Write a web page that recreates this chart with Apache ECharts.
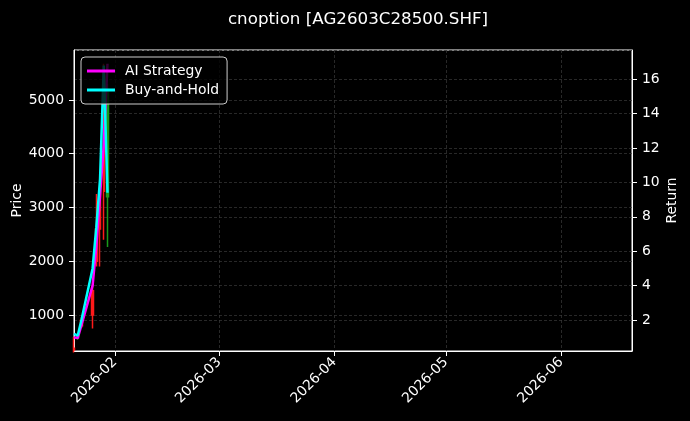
<!DOCTYPE html>
<html>
<head>
<meta charset="utf-8">
<script src="https://cdn.jsdelivr.net/npm/echarts@6/dist/echarts.min.js"></script>
<style>
html,body{margin:0;padding:0;background:#000;}
#c{width:690px;height:421px;}
</style>
</head>
<body>
<div id="c"></div>
<script>
// ---- data ----
var dates = ['2026-01-21','2026-01-22','2026-01-23','2026-01-26','2026-01-27','2026-01-28','2026-01-29','2026-01-30'];
var openP  = [350, 600, 800, 1000, 2000, 2600, 3300, 5200];
var closeP = [380, 570, 900, 1450, 2600, 3300, 5500, 3200];
var lowP   = [300, 540, 760, 750, 1900, 1900, 2400, 2265];
var highP  = [590, 640, 960, 1550, 3250, 3330, 5676, 5300];
var aiStrategy = [1.0, 0.95, 1.7, 4.0, 6.3, 9.2, 12.2, 16.9];
var buyHold    = [1.2, 1.1, 2.0, 5.0, 7.4, 10.2, 16.8, 9.4];
var xRange = ['2026-01-21', '2026-06-20'];
var priceRange = [330, 5930];
var returnRange = [0.2, 17.7];

var FONT = 'DejaVu Sans';
var FS = 13.9;
var candles = dates.map(function(d, i){ return [d, openP[i], closeP[i], lowP[i], highP[i]]; });
var aiData = dates.map(function(d, i){ return [d, aiStrategy[i]]; });
var bhData = dates.map(function(d, i){ return [d, buyHold[i]]; });

function fmtMonth(v){
  var d = new Date(v);
  var m = d.getMonth() + 1;
  return d.getFullYear() + '-' + (m < 10 ? '0' + m : m);
}

var gridLine = { show: true, lineStyle: { color: '#3a3a3a', type: [3, 2], width: 0.7 } };
var chart = echarts.init(document.getElementById('c'));
chart.setOption({
  backgroundColor: '#000',
  animation: false,
  textStyle: { fontFamily: FONT },
  title: {
    text: 'cnoption [AG2603C28500.SHF]',
    left: 353, textAlign: 'center', top: 6,
    textStyle: { color: '#fff', fontSize: 16.7, fontWeight: 'normal', fontFamily: FONT }
  },
  grid: { left: 74, right: 58, top: 50, bottom: 70, outerBoundsMode: 'none', containLabel: false,
    show: true, borderColor: '#fff', borderWidth: 1, backgroundColor: 'transparent' },
  legend: {
    left: 81, top: 57, orient: 'vertical',
    padding: [6, 8, 6, 6], itemGap: 3, itemWidth: 28, itemHeight: 3, icon: 'rect',
    backgroundColor: 'rgba(0,0,0,0.8)', borderColor: '#cccccc', borderWidth: 1, borderRadius: 4,
    textStyle: { color: '#fff', fontSize: FS, lineHeight: 16, fontFamily: FONT, padding: [0, 0, 0, 5] },
    data: ['AI Strategy', 'Buy-and-Hold']
  },
  xAxis: {
    type: 'time', min: xRange[0], max: xRange[1], splitNumber: 5,
    axisLine: { show: true, lineStyle: { color: '#fff' } },
    axisTick: { show: true, length: 5, lineStyle: { color: '#fff' } },
    axisLabel: { color: '#fff', fontSize: FS, fontFamily: FONT, rotate: 45, margin: 9,
      showMinLabel: false, showMaxLabel: false, formatter: fmtMonth, hideOverlap: false },
    splitLine: gridLine
  },
  yAxis: [{
    type: 'value', position: 'left', min: priceRange[0], max: priceRange[1],
    minInterval: 1000, maxInterval: 1000,
    name: 'Price', nameLocation: 'middle', nameGap: 50, nameMoveOverlap: false,
    nameTextStyle: { color: '#fff', fontSize: FS, fontFamily: FONT },
    axisLine: { show: true, lineStyle: { color: '#fff' } },
    axisTick: { show: true, length: 5, lineStyle: { color: '#fff' } },
    axisLabel: { color: '#fff', fontSize: FS, fontFamily: FONT, margin: 10, showMinLabel: false, showMaxLabel: false,
      formatter: function(v){ return String(v); } },
    splitLine: gridLine
  }, {
    type: 'value', position: 'right', min: returnRange[0], max: returnRange[1],
    minInterval: 2, maxInterval: 2,
    name: 'Return', nameLocation: 'middle', nameGap: 33, nameMoveOverlap: false,
    nameTextStyle: { color: '#fff', fontSize: FS, fontFamily: FONT },
    axisLine: { show: true, lineStyle: { color: '#fff' } },
    axisTick: { show: true, length: 5, lineStyle: { color: '#fff' } },
    axisLabel: { color: '#fff', fontSize: FS, fontFamily: FONT, margin: 10, showMinLabel: false, showMaxLabel: false,
      formatter: function(v){ return String(v); } },
    splitLine: gridLine
  }],
  series: [{
    type: 'candlestick', name: 'Price', yAxisIndex: 0,
    data: candles, encode: { x: 0, y: [1, 2, 3, 4] },
    barWidth: 2, clip: true,
    itemStyle: { color: '#ff1a1a', color0: '#1a9a1a', borderColor: '#ff1a1a', borderColor0: '#1a9a1a', borderWidth: 1.5 }
  }, {
    type: 'line', name: 'AI Strategy', yAxisIndex: 1, data: aiData,
    symbol: 'none', showSymbol: false, clip: true,
    lineStyle: { color: '#ff00ff', width: 2.5 }, itemStyle: { color: '#ff00ff' }
  }, {
    type: 'line', name: 'Buy-and-Hold', yAxisIndex: 1, data: bhData,
    symbol: 'none', showSymbol: false, clip: true,
    lineStyle: { color: '#00ffff', width: 2.5 }, itemStyle: { color: '#00ffff' }
  }]
});
</script>
</body>
</html>
